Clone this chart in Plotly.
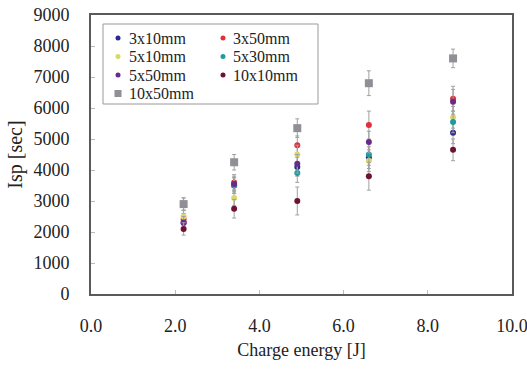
import plotly.graph_objects as go

energy = [2.2, 3.4, 4.9, 6.6, 8.6]
series_names = ["3x10mm", "3x50mm", "5x10mm", "5x30mm", "5x50mm", "10x10mm", "10x50mm"]
isp_3x10 = [2300, 3500, 4100, 4400, 5200]
isp_3x50 = [2400, 3600, 4800, 5450, 6300]
isp_5x10 = [2500, 3100, 4500, 4300, 5700]
isp_5x30 = [2900, 3500, 3900, 4500, 5550]
isp_5x50 = [2300, 3550, 4200, 4900, 6200]
isp_10x10 = [2100, 2750, 3000, 3800, 4650]
isp_10x50 = [2900, 4250, 5350, 6800, 7600]
err_3x10 = [200, 250, 300, 350, 350]
err_3x50 = [200, 250, 300, 450, 400]
err_5x10 = [200, 250, 300, 350, 350]
err_5x30 = [200, 250, 300, 350, 350]
err_5x50 = [200, 250, 300, 350, 400]
err_10x10 = [200, 300, 450, 450, 350]
err_10x50 = [200, 250, 300, 400, 300]

values = [isp_3x10, isp_3x50, isp_5x10, isp_5x30, isp_5x50, isp_10x10, isp_10x50]
errors = [err_3x10, err_3x50, err_5x10, err_5x30, err_5x50, err_10x10, err_10x50]
colors = ["#2b2b8c", "#e0303c", "#d9d96a", "#1f9a9e", "#6a2a8c", "#6e1232", "#8f8f96"]
symbols = ["circle"] * 6 + ["square"]
sizes = [6, 6, 6, 6, 6, 6, 8]

font_family = "Liberation Serif"
text_color = "#222222"

W, H = 527, 372
ml, mr, mt, mb = 91, 15, 15, 78
pw, ph = W - ml - mr, H - mt - mb

def px(xp):
    return (xp - ml) / pw

def py(yp):
    return (H - mb - yp) / ph

fig = go.Figure()
for name, v, e, c, s, sz in zip(series_names, values, errors, colors, symbols, sizes):
    fig.add_trace(go.Scatter(
        x=energy, y=v, mode="markers", name=name, showlegend=False,
        marker=dict(color=c, symbol=s, size=sz, line=dict(width=0)),
        error_y=dict(type="data", array=e, visible=True, color="#a0a0a0", thickness=1, width=2),
    ))

# Manual legend (two columns) inside a framed box
shapes = [dict(type="rect", xref="paper", yref="paper",
               x0=px(103), x1=px(318), y0=py(104), y1=py(24),
               line=dict(color="#999999", width=1), fillcolor="white", layer="below")]
annotations = []
col_marker_x = [118, 223]
col_text_x = [128, 232]
row_y = [38, 56.5, 75, 93.5]
for i, (name, c, s) in enumerate(zip(series_names, colors, symbols)):
    col = i % 2
    row = i // 2
    mx = px(col_marker_x[col])
    my = py(row_y[row])
    r = 2.5 if s == "circle" else 3.5
    shapes.append(dict(type="circle" if s == "circle" else "rect",
                       xref="paper", yref="paper", xsizemode="pixel", ysizemode="pixel",
                       xanchor=mx, yanchor=my, x0=-r, x1=r, y0=-r, y1=r,
                       fillcolor=c, line=dict(width=0), layer="above"))
    annotations.append(dict(text=name, xref="paper", yref="paper",
                            x=px(col_text_x[col]), y=my, xanchor="left", yanchor="middle",
                            showarrow=False, borderpad=0,
                            font=dict(family=font_family, size=16, color=text_color)))

axis_common = dict(
    showgrid=False, zeroline=False, showline=True, linecolor="#5a5a5a", linewidth=2,
    mirror=True, ticks="inside", ticklen=4, tickcolor="#bbbbbb", automargin=False,
    ticklabeloverflow="allow",
    tickfont=dict(family=font_family, size=18, color=text_color),
)

fig.update_layout(
    width=W, height=H,
    margin=dict(l=ml, r=mr, t=mt, b=mb, autoexpand=False),
    paper_bgcolor="white", plot_bgcolor="white",
    font=dict(family=font_family, color=text_color),
    showlegend=False,
    xaxis=dict(range=[0, 10], dtick=2, tickformat=".1f", ticklabelstandoff=14,
               title=dict(text="Charge energy [J]", font=dict(family=font_family, size=18), standoff=9),
               **axis_common),
    yaxis=dict(range=[0, 9000], dtick=1000, tickformat="d", ticklabelstandoff=16,
               title=dict(text="Isp [sec]", font=dict(family=font_family, size=20), standoff=5),
               **axis_common),
    shapes=shapes,
    annotations=annotations,
)

fig.write_html("out.html")
